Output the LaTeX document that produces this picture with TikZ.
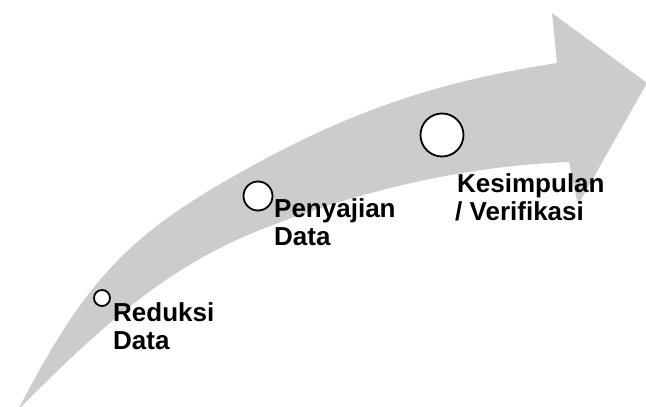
\documentclass[tikz,border=0pt]{standalone}
\usepackage{fontspec}
\setmainfont{Liberation Sans}
\definecolor{arrowgray}{HTML}{CCCCCC}
\tikzset{
  stagedot/.style={circle, draw=black, line width=1.8pt, fill=white, inner sep=0pt},
  stagelabel/.style={anchor=base west, inner sep=0pt, align=left,
    font=\fontsize{26pt}{27.6pt}\selectfont\bfseries}
}
\begin{document}
\begin{tikzpicture}[x=1pt,y=-1pt]
\useasboundingbox (0,0) rectangle (646,407);
\clip (0,0) rectangle (646,407);
% curved arrow
\fill[arrowgray]
  (18,410) .. controls (82,287) and (123,240) .. (227,180)
  .. controls (340,115) and (429,83) .. (557,63)
  -- (552,13) -- (647,83) -- (578,205) -- (569,162)
  .. controls (464,166) and (358,191) .. (260,230)
  .. controls (167,267) and (102,325) .. (18,410)
  -- cycle;
% stage circles
\node[stagedot, minimum size=16pt] (c1) at (102,298) {};
\node[stagedot, minimum size=29pt] (c2) at (258,196) {};
\node[stagedot, minimum size=43pt] (c3) at (442,135) {};
% labels (anchor on the baseline of the last line)
\node[stagelabel] (t1) at (113,349.5) {Reduksi\\Data};
\node[stagelabel] (t2) at (274,245.5) {Penyajian\\Data};
\node[stagelabel] (t3) at (455,220) {\hspace*{2pt}Kesimpulan\\/ Verifikasi};
\end{tikzpicture}
\end{document}
